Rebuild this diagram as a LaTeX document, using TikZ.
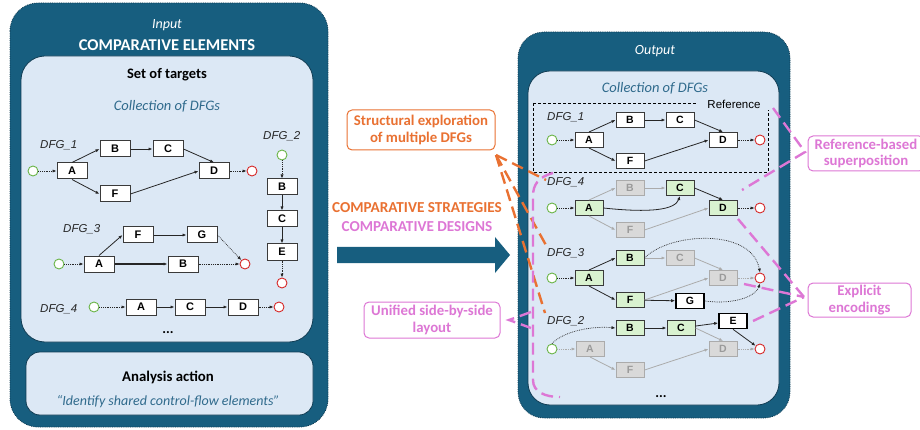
\documentclass[tikz,border=0pt]{standalone}
\usepackage{fontspec}
\setmainfont{Carlito}
\newfontfamily\arialf{Liberation Sans}
\usetikzlibrary{arrows.meta,calc}
\definecolor{dblue}{HTML}{175E7F}
\definecolor{pborder}{HTML}{0F3B52}
\definecolor{lblue}{HTML}{DCE8F5}
\definecolor{tealtxt}{HTML}{2F6A8C}
\definecolor{gfill}{HTML}{D9F2D0}
\definecolor{greyfill}{HTML}{D9D9D9}
\definecolor{greyline}{HTML}{ABABAB}
\definecolor{greytxt}{HTML}{9A9A9A}
\definecolor{orng}{HTML}{E97132}
\definecolor{pnk}{HTML}{DD77D5}
\definecolor{startc}{HTML}{6AB547}
\definecolor{endc}{HTML}{D62828}
\definecolor{nodeb}{HTML}{3A3A3A}
\begin{document}
\begin{tikzpicture}[x=1pt,y=-1pt,
  panel/.style={fill=dblue,draw=pborder,densely dotted,line width=0.8pt},
  inbox/.style={fill=lblue,draw=pborder,line width=0.8pt},
  act/.style={rectangle,draw=nodeb,line width=1pt,fill=white,minimum width=30pt,minimum height=16pt,inner sep=0pt,font=\arialf\bfseries\fontsize{11}{11}\selectfont},
  ract/.style={act,minimum width=28pt,minimum height=15pt,font=\arialf\bfseries\fontsize{10.5}{10.5}\selectfont},
  gact/.style={ract,fill=gfill},
  xact/.style={ract,draw=greyline,fill=greyfill,text=greytxt},
  wact/.style={ract,line width=1.6pt,draw=black},
  st/.style={circle,draw=startc,line width=0.9pt,fill=white,minimum size=10pt,inner sep=0pt},
  en/.style={circle,draw=endc,line width=0.9pt,fill=white,minimum size=10pt,inner sep=0pt},
  e/.style={-{Latex[length=4pt,width=3.2pt]},line width=0.8pt,draw=black!85},
  ed/.style={e,densely dotted,line width=0.7pt},
  eg/.style={-{Latex[length=4pt,width=3.2pt]},line width=0.8pt,draw=greyline},
  egd/.style={eg,densely dotted,line width=0.7pt},
  lbl/.style={anchor=base west,inner sep=0pt,font=\arialf\itshape\fontsize{11.5}{12}\selectfont,text=black!85},
  ttl/.style={anchor=base,inner sep=0pt},
  callo/.style={draw=orng,line width=1pt,rounded corners=5pt,fill=white,text=orng,font=\bfseries\fontsize{14.8}{16.5}\selectfont,align=center,inner sep=0pt},
  callp/.style={callo,draw=pnk,text=pnk},
  dsho/.style={draw=orng,line width=2.4pt,dash pattern=on 12pt off 6pt},
  dshp/.style={draw=pnk,line width=2.4pt,dash pattern=on 12pt off 6pt},
]
\useasboundingbox (0,0) rectangle (920,430);
% ---------- panels
\draw[panel,rounded corners=28pt] (10,3) rectangle (328,427);
\draw[inbox,rounded corners=24pt] (21,56) rectangle (313,342);
\draw[inbox,rounded corners=14pt] (26,352) rectangle (313,415);
\draw[panel,rounded corners=26pt] (518,32) rectangle (790,418);
\draw[inbox,rounded corners=22pt] (528,71) rectangle (779,405);
% ---------- left texts
\node[ttl,text=white,font=\itshape\fontsize{14}{16}\selectfont] (tin) at (167,29) {Input};
\node[ttl,text=white,font=\bfseries\fontsize{16.5}{18}\selectfont] (tce) at (167,51) {COMPARATIVE ELEMENTS};
\node[ttl,font=\bfseries\fontsize{14.5}{16}\selectfont] (tset) at (167,79) {Set of targets};
\node[ttl,text=tealtxt,font=\itshape\fontsize{14.5}{16}\selectfont] (tcol) at (167,111) {Collection of DFGs};
\node[ttl,font=\bfseries\fontsize{14.8}{16}\selectfont] (tana) at (168,381) {Analysis action};
\node[ttl,text=tealtxt,font=\itshape\fontsize{14}{16}\selectfont] (tide) at (168,405) {``Identify shared control-flow elements''};
\node[ttl,font=\bfseries\fontsize{14}{16}\selectfont] (tdots) at (168,333) {...};
% ---------- left DFG_1
\node[lbl] (l1lab) at (40,149) {DFG\_1};
\node[st] (l1s) at (33,171) {};
\node[act] (l1A) at (72,171) {A};
\node[act] (l1B) at (115,149) {B};
\node[act] (l1C) at (168,149) {C};
\node[act] (l1D) at (214,171) {D};
\node[act] (l1F) at (115,194) {F};
\node[en] (l1e) at (252,171) {};
\draw[ed] (l1s) -- (l1A);
\draw[e] (l1A.north) -- (l1B.west);
\draw[e] (l1A.south) -- (l1F.west);
\draw[e] (l1B) -- (l1C);
\draw[e] (l1C.east) -- (l1D.north);
\draw[e] (l1F.east) -- (l1D.west);
\draw[ed] (l1D) -- (l1e);
% ---------- left DFG_2
\node[lbl] (l2lab) at (263,140) {DFG\_2};
\node[st] (l2s) at (282,155) {};
\node[act] (l2B) at (282,187) {B};
\node[act] (l2C) at (282,219) {C};
\node[act] (l2E) at (282,252) {E};
\node[en] (l2e) at (282,283) {};
\draw[ed] (l2s) -- (l2B);
\draw[e] (l2B) -- (l2C);
\draw[e] (l2C) -- (l2E);
\draw[ed] (l2E) -- (l2e);
% ---------- left DFG_3
\node[lbl] (l3lab) at (63,233) {DFG\_3};
\node[st] (l3s) at (59,264) {};
\node[act] (l3A) at (99,264) {A};
\node[act] (l3F) at (138,235) {F};
\node[act] (l3G) at (202,235) {G};
\node[act] (l3B) at (183,264) {B};
\node[en] (l3e) at (245,264) {};
\draw[ed] (l3s) -- (l3A);
\draw[e] (l3A.north) -- (l3F.west);
\draw[e] (l3F) -- (l3G);
\draw[e,line width=1.1pt] (l3A) -- (l3B);
\draw[ed] (l3B) -- (l3e);
\draw[ed] (l3G.east) -- (l3e);
% ---------- left DFG_4
\node[lbl] (l4lab) at (40,312) {DFG\_4};
\node[st] (l4s) at (94,307) {};
\node[act] (l4A) at (141,307) {A};
\node[act] (l4C) at (190,307) {C};
\node[act] (l4D) at (243,307) {D};
\node[en] (l4e) at (279,307) {};
\draw[ed] (l4s) -- (l4A);
\draw[e] (l4A) -- (l4C);
\draw[e] (l4C) -- (l4D);
\draw[ed] (l4D) -- (l4e);
% ---------- middle
\node[callo,minimum width=148pt,minimum height=40pt] (cstr) at (421,130) {Structural exploration\\of multiple DFGs};
\node[ttl,text=orng,font=\bfseries\fontsize{15.2}{16}\selectfont] (tstrat) at (417,213) {COMPARATIVE STRATEGIES};
\node[ttl,text=pnk,font=\bfseries\fontsize{15.2}{16}\selectfont] (tdes) at (417,232) {COMPARATIVE DESIGNS};
\fill[dblue] (337,247) -- (495,247) -- (495,237) -- (510,255) -- (495,273) -- (495,263) -- (337,263) -- cycle;
\node[callp,minimum width=136pt,minimum height=36pt] (cuni) at (432,320) {Unified side-by-side\\layout};
% ---------- right texts
\node[ttl,text=white,font=\itshape\fontsize{14}{16}\selectfont] (tout) at (655,55) {Output};
\node[ttl,text=tealtxt,font=\itshape\fontsize{14.5}{16}\selectfont] (tcol2) at (655,93) {Collection of DFGs};
\draw[line width=0.7pt,dash pattern=on 3pt off 2pt] (533,103) rectangle (768,172);
\node[fill=lblue,minimum width=76pt,inner sep=1pt,anchor=base,font=\arialf\fontsize{11.5}{12}\selectfont] (refl) at (734,109) {Reference};
\node[ttl,font=\bfseries\fontsize{14}{16}\selectfont] (tdots2) at (661,397) {...};
% ---------- right DFG_1
\node[lbl] (r1lab) at (547,121) {DFG\_1};
\node[st] (r1s) at (552,140) {};
\node[ract] (r1A) at (589,140) {A};
\node[ract] (r1B) at (630,120) {B};
\node[ract] (r1C) at (680,120) {C};
\node[ract] (r1D) at (723,140) {D};
\node[ract] (r1F) at (630,161) {F};
\node[en] (r1e) at (760,140) {};
\draw[ed] (r1s) -- (r1A);
\draw[e] (r1A.north) -- (r1B.west);
\draw[e] (r1A.south) -- (r1F.west);
\draw[e] (r1B) -- (r1C);
\draw[e] (r1C.east) -- (r1D.north);
\draw[e] (r1F.east) -- (r1D.west);
\draw[ed] (r1D) -- (r1e);
% ---------- right DFG_4
\node[lbl] (r4lab) at (547,186) {DFG\_4};
\node[st] (r4s) at (552,208) {};
\node[gact] (r4A) at (589,208) {A};
\node[xact] (r4B) at (630,188) {B};
\node[gact] (r4C) at (680,188) {C};
\node[gact] (r4D) at (723,208) {D};
\node[xact] (r4F) at (630,230) {F};
\node[en] (r4e) at (760,208) {};
\draw[ed] (r4s) -- (r4A);
\draw[eg] (r4A.north) -- (r4B.west);
\draw[eg] (r4A.south) -- (r4F.west);
\draw[eg] (r4B) -- (r4C);
\draw[eg] (r4F.east) -- (r4D.west);
\draw[e] (r4A.east) .. controls (650,213) and (675,210) .. (r4C.south);
\draw[e] (r4C.east) -- (r4D.north);
\draw[ed] (r4D) -- (r4e);
% ---------- right DFG_3
\node[lbl] (r3lab) at (547,256) {DFG\_3};
\node[st] (r3s) at (552,278) {};
\node[gact] (r3A) at (589,278) {A};
\node[gact] (r3B) at (630,258) {B};
\node[xact] (r3C) at (680,258) {C};
\node[xact] (r3D) at (723,278) {D};
\node[gact] (r3F) at (630,300) {F};
\node[wact] (r3G) at (690,301) {G};
\node[en] (r3e) at (760,278) {};
\draw[ed] (r3s) -- (r3A);
\draw[e] (r3A.north) -- (r3B.west);
\draw[e] (r3A.south) -- (r3F.west);
\draw[eg] (r3B) -- (r3C);
\draw[eg] (r3C.east) -- (r3D.north);
\draw[eg] (r3F.east) -- (r3D.west);
\draw[egd] (r3D) -- (r3e);
\draw[e] (r3F) -- (r3G);
\draw[ed] (r3B.east) .. controls (670,232) and (752,228) .. (r3e.north);
\draw[ed] (r3G.east) .. controls (735,305) and (756,296) .. (r3e.south);
% ---------- right DFG_2
\node[lbl] (r2lab) at (547,324) {DFG\_2};
\node[st] (r2s) at (552,349) {};
\node[xact] (r2A) at (590,349) {A};
\node[gact] (r2B) at (630,328) {B};
\node[gact] (r2C) at (681,328) {C};
\node[wact] (r2E) at (733,321) {E};
\node[xact] (r2D) at (723,349) {D};
\node[xact] (r2F) at (630,370) {F};
\node[en] (r2e) at (760,349) {};
\draw[egd] (r2s) -- (r2A);
\draw[ed] (r2s.north) .. controls (565,330) and (595,326) .. (r2B.west);
\draw[e] (r2B) -- (r2C);
\draw[e] (r2C) -- (r2E);
\draw[eg] (r2C.east) -- (r2D.north);
\draw[eg] (r2A.south) -- (r2F.west);
\draw[eg] (r2F.east) -- (r2D.west);
\draw[egd] (r2D) -- (r2e);
\draw[e] (r2E.south) -- (r2e);
% ---------- right callouts
\node[callp,minimum width=116pt,minimum height=35pt] (cref) at (866,153.5) {Reference-based\\superposition};
\node[callp,minimum width=103pt,minimum height=34pt] (cexp) at (859.5,300) {Explicit\\encodings};
% ---------- dashed connectors
\coordinate (oa) at (496,155);
\coordinate (o1) at (546,180);
\coordinate (o2) at (547,247);
\coordinate (o3) at (545,313);
\draw[dsho] (oa) -- (o1);
\draw[dsho] (oa) -- (o2);
\draw[dsho] (oa) -- (o3);
\draw[dshp] (553,173) .. controls (538,177) and (533,185) .. (533,196) -- (533,380) .. controls (533,392) and (545,397) .. (560,397);
\coordinate (ua) at (509,320);
\draw[dshp] (531,312) -- (ua) -- (531,328);
\coordinate (ra) at (805,152);
\draw[dshp] (773,108) -- (ra) -- (742,190);
\coordinate (ea) at (804,297);
\draw[dshp] (738,219) -- (ea);
\draw[dshp] (744,284) -- (ea);
\draw[dshp] (753,321) -- (ea);
\end{tikzpicture}
\end{document}
